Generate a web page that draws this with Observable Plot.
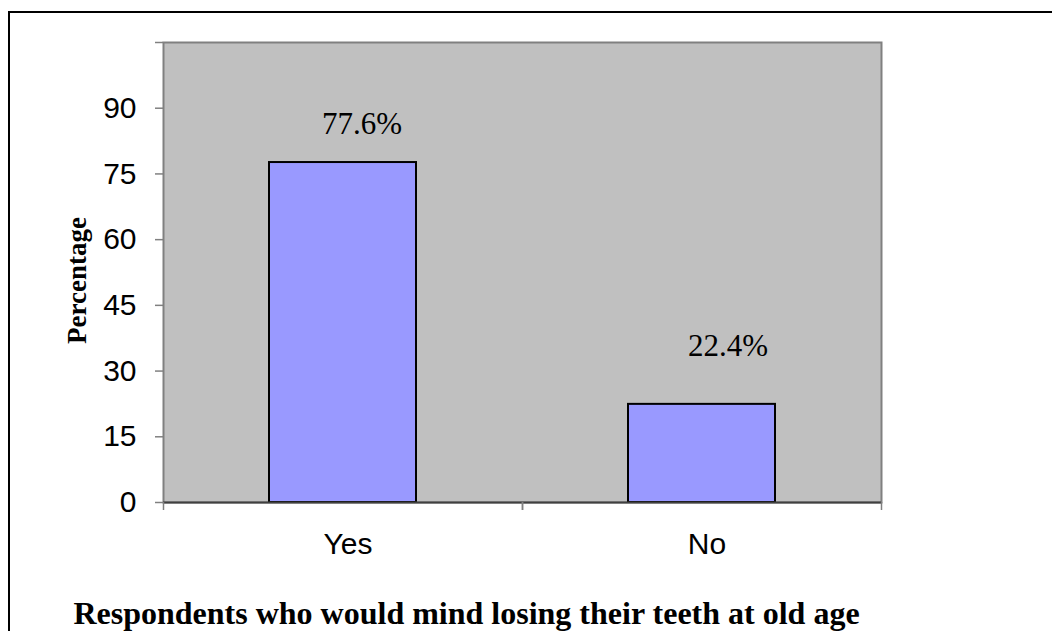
<!DOCTYPE html>
<html>
<head>
<meta charset="utf-8">
<script src="https://cdn.jsdelivr.net/npm/d3@7"></script>
<script src="https://cdn.jsdelivr.net/npm/@observablehq/plot@0.6"></script>
<style>
  html, body { margin: 0; padding: 0; background: #fff; overflow: hidden; }
  #wrap { position: relative; width: 1052px; height: 631px; }
  #border { position: absolute; left: 8px; top: 11px; width: 1100px; height: 700px;
            border: 2px solid #000; box-sizing: border-box; }
  #chart { position: absolute; left: 0; top: 0; }
</style>
</head>
<body>
<div id="wrap">
  <div id="border"></div>
  <div id="chart"></div>
</div>
<script>
// Survey answers and their shares (%)
const categories = ["Yes", "No"];
const percentages = [77.6, 22.4];

// Value axis ticks and their labels (top tick unlabelled)
const yTicks = [0, 15, 30, 45, 60, 75, 90, 105];
const yTickLabels = ["0", "15", "30", "45", "60", "75", "90", ""];

const title = "Respondents who would mind losing their teeth at old age";
const yLabel = "Percentage";

const data = categories.map((answer, i) => ({answer, pct: percentages[i]}));

// Layout
const W = 1052, H = 631;
const mLeft = 163, mRight = 171, mTop = 42, mBottom = 129;
const step = (W - mLeft - mRight) / categories.length;
const half = step / 2;

const sans = "Liberation Sans, Arial, sans-serif";
const serif = "Liberation Serif, Times New Roman, serif";

// Nudges for the value labels above each bar
const labelNudge = {Yes: {dx: 19, dy: -29}, No: {dx: 26, dy: -48}};

const chart = Plot.plot({
  width: W,
  height: H,
  marginLeft: mLeft,
  marginRight: mRight,
  marginTop: mTop,
  marginBottom: mBottom,
  style: {background: "transparent", fontFamily: sans, overflow: "visible"},
  x: {domain: categories, padding: 0, axis: null},
  y: {domain: [0, 105], axis: null},
  marks: [
    Plot.frame({fill: "#C0C0C0", stroke: "#808080", strokeWidth: 2}),
    Plot.axisY({
      ticks: yTicks,
      tickSize: 8,
      tickPadding: 19,
      tickFormat: d => yTickLabels[yTicks.indexOf(d)],
      fontSize: 30,
      fontFamily: sans,
      stroke: "#808080",
      strokeWidth: 1.5,
      fill: "#000",
      label: null
    }),
    Plot.barY(data, {
      x: "answer",
      y: "pct",
      fill: "#9999FF",
      stroke: "#000",
      strokeWidth: 2,
      insetLeft: 106,
      insetRight: 106
    }),
    Plot.ruleY([0], {stroke: "#404040", strokeWidth: 2}),
    // category boundary ticks below the axis
    Plot.axisX({tickSize: 8, tickFormat: () => "", dx: -half, stroke: "#808080", strokeWidth: 1.5, label: null}),
    Plot.axisX({tickSize: 8, tickFormat: () => "", dx: half, stroke: "#808080", strokeWidth: 1.5, label: null}),
    // category labels
    Plot.axisX({tickSize: 0, tickPadding: 30, dx: 5, fontSize: 30, fontFamily: sans, fill: "#000", label: null}),
    // value labels
    ...categories.map(c => Plot.text(data.filter(d => d.answer === c), {
      x: "answer",
      y: "pct",
      text: d => d3.format(".1f")(d.pct) + "%",
      lineAnchor: "bottom",
      dx: labelNudge[c].dx,
      dy: labelNudge[c].dy,
      fontSize: 31,
      fontFamily: serif,
      fill: "#000"
    })),
    // y axis title
    Plot.text([yLabel], {
      frameAnchor: "left",
      text: d => d,
      rotate: -90,
      textAnchor: "middle",
      lineAnchor: "bottom",
      dx: -78,
      dy: 8,
      fontSize: 27,
      fontWeight: "bold",
      fontFamily: serif,
      fill: "#000"
    }),
    // chart title below the plot
    Plot.text([title], {
      frameAnchor: "bottom",
      text: d => d,
      textAnchor: "middle",
      lineAnchor: "bottom",
      dx: -56,
      dy: 121,
      fontSize: 32,
      fontWeight: "bold",
      fontFamily: serif,
      fill: "#000"
    })
  ]
});

document.getElementById("chart").appendChild(chart);
</script>
</body>
</html>
